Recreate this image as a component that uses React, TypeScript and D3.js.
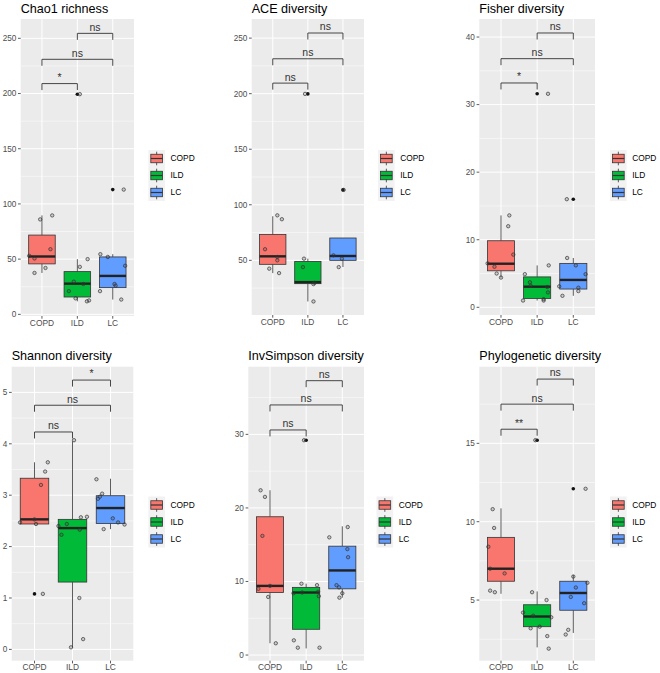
import React from "react";
import * as d3 from "d3";

const groups = ["COPD", "ILD", "LC"];
const groupColors = ["#F8766D", "#00BA38", "#619CFF"];

// box stats per group: [lower whisker, q1, median, q3, upper whisker]
// points per group: [value, jitter offset in category units]

const chao1Boxes = [
  [37.5, 45.7, 52.4, 71.8, 89.6],
  [11.8, 15.7, 27.8, 38.7, 50],
  [13.4, 24.2, 34.8, 52, 54.5],
];
const chao1Outliers = [[], [199.4], [113]];
const chao1Points = [
  [[89.6, 0.29], [86, -0.05], [59, 0.24], [53, -0.36], [50.6, -0.21], [42, 0.1], [37.5, -0.21]],
  [[199.4, 0.07], [50, 0.29], [43, 0.07], [29.6, -0.1], [27.5, 0.17], [21, -0.24], [14.5, -0.05], [11.8, 0.27], [12.6, 0.33]],
  [[113, 0.31], [54.5, -0.35], [52, -0.14], [44, 0.35], [27.5, 0.05], [26, 0.08], [21, -0.36], [13.4, 0.24]],
];
const chao1Ticks = [0, 50, 100, 150, 200, 250];
const chao1Signif = [
  ["COPD", "ILD", 209, "*"],
  ["COPD", "LC", 231, "ns"],
  ["ILD", "LC", 254.5, "ns"],
];

const aceBoxes = [
  [38.5, 46.4, 53.6, 73.2, 89.7],
  [13, 29, 30.4, 49, 51.5],
  [44, 50, 53.9, 70.1, 70.1],
];
const aceOutliers = [[], [199.8], [113.4]];
const acePoints = [
  [[90.5, 0.13], [87, 0.26], [60, -0.22], [53, 0.13], [50, 0.13], [42.5, -0.1], [38.5, 0.18]],
  [[199.8, -0.08], [51.5, -0.11], [43.9, -0.14], [29.8, 0.19], [28.6, 0.16], [13, 0.16]],
  [[113.4, 0.02], [54.5, -0.27], [51.5, -0.03], [43.9, -0.12]],
];
const aceTicks = [50, 100, 150, 200, 250];
const aceSignif = [
  ["COPD", "ILD", 209.5, "ns"],
  ["COPD", "LC", 231.4, "ns"],
  ["ILD", "LC", 254.6, "ns"],
];

const fisherBoxes = [
  [4.4, 5.4, 6.45, 9.85, 13.6],
  [1.0, 1.3, 3.05, 4.5, 6.2],
  [1.7, 2.7, 4.05, 6.5, 7.3],
];
const fisherOutliers = [[], [31.6], [16]];
const fisherPoints = [
  [[13.6, 0.23], [12.0, 0.2], [7.8, 0.34], [6.5, -0.37], [6.0, -0.18], [5.0, -0.12], [4.4, 0.0]],
  [[31.6, 0.3], [6.2, 0.32], [4.9, -0.34], [3.7, -0.2], [3.2, -0.18], [3.0, 0.28], [2.2, 0.3], [1.2, 0.18], [1.0, 0.18], [1.0, -0.39]],
  [[16, -0.18], [7.3, -0.17], [6.2, 0.07], [4.9, 0.34], [3.1, -0.39], [2.9, 0.14], [2.4, 0.14], [1.7, -0.3]],
];
const fisherTicks = [0, 10, 20, 30, 40];
const fisherSignif = [
  ["COPD", "ILD", 33.2, "*"],
  ["COPD", "LC", 36.8, "ns"],
  ["ILD", "LC", 40.6, "ns"],
];

const shannonBoxes = [
  [2.44, 2.44, 2.53, 3.33, 3.64],
  [0.03, 1.31, 2.36, 2.53, 4.05],
  [2.34, 2.45, 2.75, 2.99, 3.32],
];
const shannonOutliers = [[1.08], [], []];
const shannonPoints = [
  [[3.64, 0.35], [3.46, 0.28], [3.2, 0.17], [2.53, 0], [2.47, -0.38], [2.44, 0.04], [1.08, 0.22]],
  [[4.07, 0.04], [2.58, 0.38], [2.57, 0.22], [2.44, -0.15], [2.4, -0.37], [2.33, 0.19], [2.23, -0.29], [1.0, 0.18], [0.2, 0.28], [0.04, -0.04]],
  [[3.31, -0.37], [3.03, -0.22], [2.97, -0.28], [2.93, -0.33], [2.55, 0.06], [2.47, 0.2], [2.43, 0.37], [2.34, -0.18]],
];
const shannonTicks = [0, 1, 2, 3, 4, 5];
const shannonSignif = [
  ["COPD", "ILD", 4.23, "ns"],
  ["COPD", "LC", 4.75, "ns"],
  ["ILD", "LC", 5.24, "*"],
];

const invSimpsonBoxes = [
  [1.6, 8.5, 9.4, 18.8, 22.4],
  [0.9, 3.5, 8.5, 9.2, 9.7],
  [7.8, 9.0, 11.5, 14.8, 17.5],
];
const invSimpsonOutliers = [[], [29.2], []];
const invSimpsonPoints = [
  [[22.4, -0.26], [21.5, -0.14], [16.2, -0.21], [9.4, 0], [9.0, -0.32], [7.9, -0.05], [1.6, 0.16]],
  [[29.2, -0.06], [9.7, -0.13], [9.5, 0.3], [8.6, 0.33], [8.5, -0.11], [8.4, -0.35], [8.0, 0.35], [2.0, -0.34], [1.0, -0.23], [1.0, 0.37]],
  [[17.4, 0.15], [16.0, -0.36], [14.4, 0.14], [13.3, 0.16], [9.5, -0.16], [9.2, -0.09], [8.4, 0], [7.8, -0.08]],
];
const invSimpsonTicks = [0, 10, 20, 30];
const invSimpsonSignif = [
  ["COPD", "ILD", 30.6, "ns"],
  ["COPD", "LC", 34.0, "ns"],
  ["ILD", "LC", 37.3, "ns"],
];

const phyloBoxes = [
  [5.4, 6.2, 7.0, 9.0, 10.85],
  [1.98, 3.3, 3.95, 4.7, 5.55],
  [2.9, 4.35, 5.45, 6.2, 6.6],
];
const phyloOutliers = [[], [15.2], [12.1]];
const phyloPoints = [
  [[10.8, -0.23], [9.6, -0.19], [8.4, -0.35], [7.0, -0.3], [6.7, 0.1], [5.6, -0.3], [5.5, -0.17]],
  [[15.2, -0.05], [5.5, -0.14], [5.0, 0.26], [4.2, -0.39], [4.0, -0.11], [3.9, 0.39], [3.3, 0.07], [3.2, -0.18], [2.7, 0.28], [1.9, 0.32]],
  [[12.1, 0.34], [6.5, 0], [6.1, 0.39], [5.8, 0.07], [5.2, -0.07], [4.8, 0.3], [3.1, -0.14], [2.8, -0.21]],
];
const phyloTicks = [5, 10, 15];
const phyloSignif = [
  ["COPD", "ILD", 15.9, "**"],
  ["COPD", "LC", 17.5, "ns"],
  ["ILD", "LC", 19.1, "ns"],
];

const panels = [
  { title: "Chao1 richness", boxes: chao1Boxes, outliers: chao1Outliers, points: chao1Points, ticks: chao1Ticks, signif: chao1Signif,
    domain: [-1.5, 267.5], frame: { left: 20.7, right: 134, top: 19, bottom: 316 }, legend: { x: 148.3, y: 150 } },
  { title: "ACE diversity", boxes: aceBoxes, outliers: aceOutliers, points: acePoints, ticks: aceTicks, signif: aceSignif,
    domain: [0.8, 267.2], frame: { left: 251.7, right: 364, top: 19, bottom: 315 }, legend: { x: 378, y: 150 } },
  { title: "Fisher diversity", boxes: fisherBoxes, outliers: fisherOutliers, points: fisherPoints, ticks: fisherTicks, signif: fisherSignif,
    domain: [-1.14, 42.67], frame: { left: 479.3, right: 595, top: 19, bottom: 315 }, legend: { x: 610, y: 150 } },
  { title: "Shannon diversity", boxes: shannonBoxes, outliers: shannonOutliers, points: shannonPoints, ticks: shannonTicks, signif: shannonSignif,
    domain: [-0.22, 5.5], frame: { left: 11.7, right: 133.3, top: 366.7, bottom: 660.7 }, legend: { x: 148.3, y: 496.5 } },
  { title: "InvSimpson diversity", boxes: invSimpsonBoxes, outliers: invSimpsonOutliers, points: invSimpsonPoints, ticks: invSimpsonTicks, signif: invSimpsonSignif,
    domain: [-0.77, 39.2], frame: { left: 248.3, right: 364, top: 366.7, bottom: 660.7 }, legend: { x: 376.5, y: 496.5 } },
  { title: "Phylogenetic diversity", boxes: phyloBoxes, outliers: phyloOutliers, points: phyloPoints, ticks: phyloTicks, signif: phyloSignif,
    domain: [1.13, 19.89], frame: { left: 479.3, right: 595, top: 366.7, bottom: 660.7 }, legend: { x: 610, y: 496.5 } },
];

const font = "'Liberation Sans', Arial, Helvetica, sans-serif";
const dark = "#333333";

function Panel({ p }) {
  const { left, right, top, bottom } = p.frame;
  const x = d3.scaleLinear().domain([0.4, 3.6]).range([left, right]);
  const y = d3.scaleLinear().domain(p.domain).range([bottom, top]);
  const unit = x(1) - x(0);
  const half = (0.75 * unit) / 2;
  const step = p.ticks[1] - p.ticks[0];
  const minor = [p.ticks[0] - step / 2, ...p.ticks.map((t) => t + step / 2)].filter(
    (v) => v > p.domain[0] && v < p.domain[1]
  );
  const gx = (g) => x(groups.indexOf(g) + 1);
  const keyH = 17;
  const keyW = 16.7;

  return (
    <g fontFamily={font}>
      <text x={left} y={top - 6.3} fontSize={12.6} fill="#000">{p.title}</text>
      <rect x={left} y={top} width={right - left} height={bottom - top} fill="#EBEBEB" />
      {minor.map((v) => (
        <line key={"mn" + v} x1={left} x2={right} y1={y(v)} y2={y(v)} stroke="#fff" strokeWidth={0.5} />
      ))}
      {p.ticks.map((v) => (
        <line key={"mj" + v} x1={left} x2={right} y1={y(v)} y2={y(v)} stroke="#fff" strokeWidth={1} />
      ))}
      {groups.map((g, i) => (
        <line key={"vx" + g} x1={x(i + 1)} x2={x(i + 1)} y1={top} y2={bottom} stroke="#fff" strokeWidth={1} />
      ))}

      {p.boxes.map((b, i) => {
        const cx = x(i + 1);
        return (
          <g key={"box" + i}>
            <line x1={cx} x2={cx} y1={y(b[4])} y2={y(b[3])} stroke={dark} strokeWidth={0.8} />
            <line x1={cx} x2={cx} y1={y(b[1])} y2={y(b[0])} stroke={dark} strokeWidth={0.8} />
            <rect x={cx - half} y={y(b[3])} width={2 * half} height={Math.max(0.5, y(b[1]) - y(b[3]))}
              fill={groupColors[i]} stroke={dark} strokeWidth={0.8} />
            <line x1={cx - half} x2={cx + half} y1={y(b[2])} y2={y(b[2])} stroke="#222" strokeWidth={2.4} />
            {p.outliers[i].map((v, k) => (
              <circle key={"o" + k} cx={cx} cy={y(v)} r={1.8} fill="#111" />
            ))}
          </g>
        );
      })}

      {p.points.map((pts, i) =>
        pts.map((d, k) => (
          <circle key={"pt" + i + "_" + k} cx={x(i + 1 + d[1])} cy={y(d[0])} r={1.7}
            fill="rgba(60,60,60,0.2)" stroke="#333" strokeOpacity={0.85} strokeWidth={0.8} />
        ))
      )}

      {p.signif.map((s, k) => {
        const x1 = gx(s[0]);
        const x2 = gx(s[1]);
        const yy = y(s[2]);
        return (
          <g key={"sg" + k}>
            <path d={`M${x1},${yy + 6.5}V${yy}H${x2}V${yy + 6.5}`} fill="none" stroke={dark} strokeWidth={0.9} />
            <text x={(x1 + x2) / 2} y={yy - 2.6} fontSize={10.5} textAnchor="middle" fill={dark}>{s[3]}</text>
          </g>
        );
      })}

      {p.ticks.map((v) => (
        <g key={"yt" + v}>
          <line x1={left - 2.7} x2={left} y1={y(v)} y2={y(v)} stroke={dark} strokeWidth={0.8} />
          <text x={left - 4.4} y={y(v)} dy="0.35em" fontSize={8.2} textAnchor="end" fill="#4D4D4D">{v}</text>
        </g>
      ))}
      {groups.map((g, i) => (
        <g key={"xt" + g}>
          <line x1={x(i + 1)} x2={x(i + 1)} y1={bottom} y2={bottom + 2.7} stroke={dark} strokeWidth={0.8} />
          <text x={x(i + 1)} y={bottom + 9.6} fontSize={8.4} textAnchor="middle" fill="#4D4D4D">{g}</text>
        </g>
      ))}

      <rect x={p.legend.x} y={p.legend.y} width={keyW} height={keyH * 3} fill="#F2F2F2" />
      {groups.map((g, i) => {
        const ky = p.legend.y + i * keyH;
        const kx = p.legend.x;
        const cx = kx + keyW / 2;
        return (
          <g key={"lg" + g}>
            <line x1={cx} x2={cx} y1={ky + 0.1 * keyH} y2={ky + 0.9 * keyH} stroke={dark} strokeWidth={0.8} />
            <rect x={kx + 0.15 * keyW} y={ky + 0.25 * keyH} width={0.7 * keyW} height={0.5 * keyH}
              fill={groupColors[i]} stroke={dark} strokeWidth={0.8} />
            <line x1={kx + 0.15 * keyW} x2={kx + 0.85 * keyW} y1={ky + keyH / 2} y2={ky + keyH / 2} stroke={dark} strokeWidth={1.2} />
            <text x={kx + keyW + 5.5} y={ky + keyH / 2} dy="0.35em" fontSize={8.4} fill="#000">{g}</text>
          </g>
        );
      })}
    </g>
  );
}

export default function App() {
  return (
    <svg width={660} height={673} style={{ position: "absolute", left: 0, top: 0, background: "#fff" }}>
      <rect x={0} y={0} width={660} height={673} fill="#fff" />
      {panels.map((p) => (
        <Panel key={p.title} p={p} />
      ))}
    </svg>
  );
}
